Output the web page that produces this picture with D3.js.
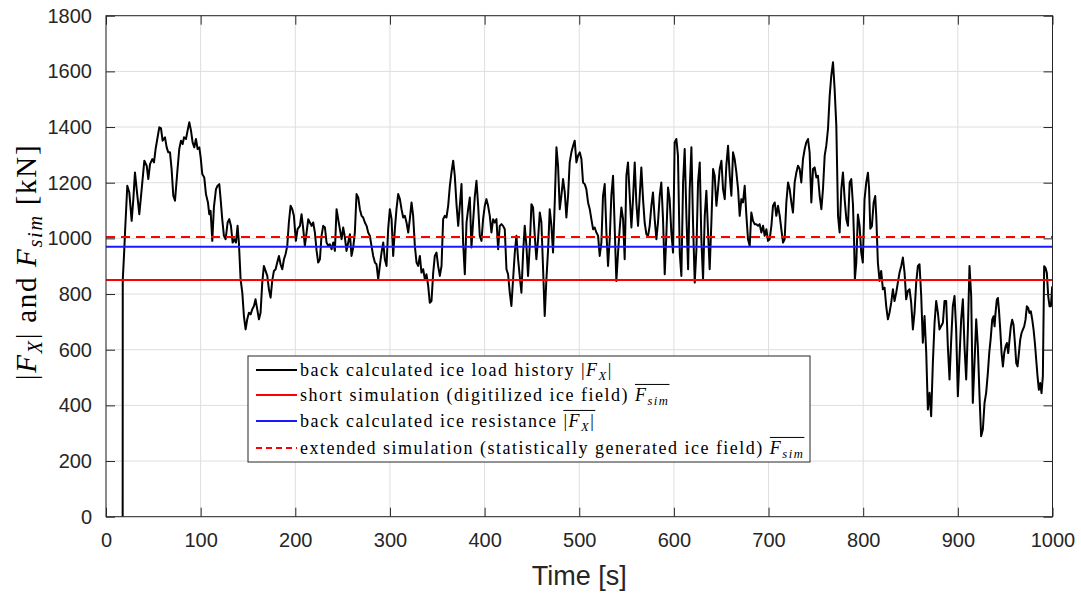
<!DOCTYPE html>
<html><head><meta charset="utf-8">
<script src="https://cdn.jsdelivr.net/npm/d3@7"></script>
<style>body{margin:0;background:#fff} svg{display:block} text{white-space:pre}</style>
</head><body>
<svg id="chart" width="1081" height="595"></svg>
<script>
// ---------- DATA ----------
// back calculated ice load history |F_X| : [time (s), load (kN)]
const loadHistory = [
[17.6,0],[17.7,850],[19.3,958],[20.1,1021],[22.5,1189],[24.6,1165],[27.1,1063],[28.9,1141],[30.6,1237],[32.4,1177],[35.2,1087],[37.7,1177],[40.5,1279],[43.0,1261],[44.7,1213],[46.5,1267],[48.9,1285],[50.7,1273],[52.4,1321],[54.2,1357],[56.3,1399],[58.1,1395],[59.8,1351],[62.3,1363],[64.1,1327],[65.8,1309],[67.6,1309],[69.3,1249],[71.1,1153],[72.9,1135],[75.3,1237],[77.4,1321],[79.2,1351],[81.0,1339],[82.4,1363],[84.5,1357],[86.2,1387],[88.0,1417],[89.8,1387],[91.5,1345],[93.3,1327],[95.0,1357],[96.8,1321],[98.6,1327],[100.0,1291],[101.7,1231],[103.8,1219],[105.6,1159],[107.7,1129],[109.1,1087],[110.5,1099],[112.3,991],[114.0,1111],[116.2,1177],[117.9,1189],[119.7,1195],[121.1,1141],[122.8,1069],[124.6,1009],[126.4,997],[128.5,1057],[130.2,1069],[132.0,1045],[133.8,985],[135.5,997],[137.3,985],[139.0,1045],[140.4,985],[142.2,853],[144.0,805],[145.7,721],[147.5,673],[149.2,709],[151.0,733],[152.8,727],[154.5,745],[156.3,757],[158.0,781],[159.8,745],[161.6,709],[163.3,733],[165.1,841],[166.8,901],[168.6,883],[170.4,865],[172.1,817],[173.9,787],[175.6,847],[177.4,883],[179.2,889],[180.9,913],[182.7,937],[184.4,907],[186.2,889],[188.0,925],[189.7,943],[191.5,973],[193.2,1057],[195.0,1117],[196.8,1105],[198.5,1081],[200.6,991],[202.4,1033],[204.9,1045],
[206.6,1087],[208.4,1033],[210.1,973],[211.9,1021],[213.7,1069],[215.4,1057],[217.2,1045],[218.9,1057],[220.7,1021],[222.5,955],[224.2,913],[226.0,925],[227.7,1009],[229.5,1045],[231.3,1039],[233.0,985],[234.8,973],[236.5,979],[238.3,961],[240.1,985],[241.8,955],[243.6,1105],[245.3,1069],[247.1,1033],[248.9,997],[250.6,1039],[252.4,1003],[254.1,955],[255.9,985],[257.7,1015],[259.4,937],[261.2,967],[262.9,1021],[264.7,1159],[266.5,1147],[268.2,1105],[270.0,1081],[271.7,1075],[273.5,1057],[275.3,1045],[277.0,1021],[278.8,1009],[280.5,973],[282.3,937],[284.1,913],[285.8,907],[287.6,853],[289.3,901],[291.1,949],[292.9,985],[294.6,925],[296.4,901],[298.1,1033],[299.9,1105],[301.7,1069],[303.4,937],[305.2,1033],[306.9,1105],[308.7,1159],[310.5,1141],[312.2,1105],[314.0,1075],[315.7,1081],[317.5,1057],[319.3,1021],[321.0,1069],[322.8,1129],[324.5,1081],[326.3,973],[328.1,913],[329.8,901],[331.6,937],[333.3,877],[335.1,889],[336.9,853],[338.6,871],[340.4,829],[342.1,769],[343.9,775],[345.7,877],[347.4,937],[349.2,949],[350.9,901],[352.7,865],[354.5,901],[356.2,1069],[358.0,1081],[359.7,1075],[361.5,1117],[363.3,1189],[365.0,1237],[366.8,1279],[368.5,1225],[370.3,1123],[372.1,1045],[373.8,1117],[375.6,1195],[377.3,985],[379.1,871],[380.9,1057],[382.6,1105],[384.4,1147],[386.1,967],[387.9,1063],[389.7,1153],[391.4,1207],[393.2,1117],[394.9,1009],
[396.7,991],[398.4,1069],[400.2,1117],[401.9,1141],[403.7,1117],[405.5,1081],[407.2,1021],[409.0,1069],[410.7,1057],[412.5,1069],[414.3,961],[416.0,1045],[417.8,1051],[419.5,1045],[421.3,1033],[423.1,889],[424.8,871],[426.6,805],[428.3,757],[430.1,853],[431.9,949],[433.6,1009],[435.4,925],[437.1,865],[438.9,805],[440.7,949],[442.4,1045],[444.2,973],[445.9,865],[447.7,973],[449.5,1123],[451.2,1111],[453.0,1009],[454.7,925],[456.5,997],[458.3,1093],[460.0,1057],[461.8,889],[463.5,721],[465.3,853],[467.1,961],[468.8,1105],[470.6,1045],[472.3,949],[474.1,1129],[475.9,1327],[477.6,1261],[479.4,1105],[481.1,1153],[482.9,1213],[484.7,1165],[486.4,1075],[488.2,1153],[489.9,1273],[491.7,1309],[493.5,1333],[495.2,1351],[497.0,1273],[498.7,1297],[500.5,1309],[502.3,1285],[504.0,1201],[505.8,1195],[507.5,1177],[509.3,1129],[511.1,1105],[512.8,1069],[514.6,1033],[516.3,1039],[518.1,1021],[519.9,1009],[521.6,937],[523.4,985],[525.1,1153],[526.9,1195],[528.7,1021],[530.4,901],[532.2,997],[533.9,1153],[535.7,1225],[537.5,1033],[539.2,847],[541.0,949],[542.7,1033],[544.5,1111],[546.3,1069],[548.0,925],[549.8,1225],[551.5,1273],[553.3,1153],[555.1,1039],[556.8,1141],[558.6,1273],[560.3,1129],[562.1,1045],[563.9,1153],[565.6,1255],[567.4,1141],[569.1,1057],[570.9,1015],[572.7,1009],[574.4,1045],[576.2,1117],[577.9,1165],[579.7,1069],[581.5,997],[583.2,1057],[585.0,1153],[586.7,1201],[588.5,1069],[590.3,871],[592.0,1009],[593.8,1183],[595.5,1141],[597.3,1021],[599.1,949],[600.8,1345],[602.6,1357],[604.3,1297],
[606.2,945],[607.9,865],[609.7,1201],[611.4,1321],[613.2,1081],[615.0,889],[616.7,1177],[618.5,1327],[620.2,1057],[622.0,841],[623.8,961],[625.5,1201],[627.3,1273],[629.0,997],[630.8,853],[632.6,1081],[634.3,1171],[636.1,1021],[637.8,889],[639.6,1057],[641.4,1249],[643.1,1225],[644.9,1117],[646.6,1177],[648.4,1249],[650.2,1279],[651.9,1177],[653.7,1141],[655.4,1261],[657.2,1333],[659.0,1225],[660.7,1153],[662.5,1309],[664.2,1285],[666.0,1237],[667.8,1177],[669.5,1081],[671.3,1141],[673.0,1129],[674.8,1189],[676.6,1081],[678.3,997],[680.1,973],[681.8,1093],[683.6,1063],[685.4,1051],[687.1,1051],[688.9,1045],[690.6,1051],[692.4,1021],[694.2,1045],[695.9,1009],[697.7,1033],[699.4,991],[701.2,997],[703.0,1045],[704.7,1117],[706.5,1129],[708.2,1081],[710.0,1117],[711.8,1081],[713.5,1033],[715.3,985],[717.0,997],[718.8,1129],[720.6,1201],[722.3,1177],[724.1,1129],[725.8,1093],[727.6,1201],[729.4,1237],[731.1,1261],[732.9,1249],[734.6,1201],[736.4,1285],[738.2,1321],[739.9,1345],[741.7,1357],[743.4,1309],[745.2,1129],[747.0,1249],[748.7,1255],[750.5,1219],[752.2,1225],[754.0,1153],[755.8,1105],[757.5,1177],[759.3,1297],[761.0,1333],[762.8,1393],[764.6,1513],[766.3,1585],[768.1,1633],[769.8,1537],[771.6,1405],[773.4,1081],[775.1,1021],[776.9,1177],[778.6,1237],[780.4,1141],[782.2,1069],[783.9,1045],[785.7,1201],[787.4,1213],[789.2,1120],[790.3,1000],[791.2,853],[792.7,913],[794.4,1086],[796.2,1044],[797.9,950],[799.6,913],[801.4,1140],[803.2,1200],[805.0,1236],[806.2,1180],[807.5,1035],[809.2,1044],[811.0,1128],[812.7,1152],[813.8,1080],[815.5,913],
[817.3,847],[819.0,883],[820.8,817],[822.6,823],[824.3,757],[826.1,709],[827.8,733],[829.6,769],[831.4,817],[833.1,775],[834.9,805],[836.6,841],[838.4,877],[840.2,901],[841.9,931],[843.7,877],[845.4,781],[847.2,811],[849.0,817],[850.7,769],[852.5,673],[854.2,733],[856.0,841],[857.8,901],[859.5,907],[861.3,793],[863.0,625],[864.8,721],[866.6,589],[868.3,385],[870.1,445],[871.8,361],[873.6,553],[875.4,697],[877.1,775],[878.9,733],[880.6,673],[882.4,685],[884.2,697],[885.9,775],[887.7,775],[889.4,613],[891.2,493],[893.0,637],[894.7,757],[896.5,793],[898.2,673],[900.0,433],[901.8,577],[903.5,709],[905.3,781],[907.0,613],[908.8,493],[910.6,673],[912.3,901],[914.1,793],[915.8,409],[917.6,553],[919.4,709],[921.1,613],[922.9,433],[924.6,289],[926.4,313],[928.2,409],[929.9,445],[931.7,517],[933.2,590],
[934.6,636],[936.3,708],[937.7,720],[938.8,684],[939.8,732],[941.2,780],[942.3,786],[943.4,744],[944.8,672],[946.2,588],[947.6,540],[949.0,588],[950.4,612],[951.8,624],[953.2,588],[954.6,636],[956.0,684],[957.4,708],[958.8,690],[960.3,624],[961.7,552],[963.1,540],[964.5,588],[965.9,636],[967.3,660],[968.7,672],[970.1,684],[971.5,708],[972.9,756],[974.3,750],[975.7,732],[977.1,738],[978.6,708],[980.0,672],[981.4,624],[982.8,564],[984.2,504],[985.6,456],[987.0,480],[988.4,444],[989.8,504],[991.2,900],[992.6,894],[994.0,876],[995.5,792],[996.9,756],[998.3,756],[999.7,828]
];
const shortSimMean = 850;      // short simulation (digitilized ice field)
const resistanceMean = 970;    // back calculated ice resistance
const extendedSimMean = 1005;  // extended simulation (statistically generated ice field)
const xTicks = [0,100,200,300,400,500,600,700,800,900,1000];
const yTicks = [0,200,400,600,800,1000,1200,1400,1600,1800];
const xDomain = [0,1000];
const yDomain = [0,1800];
const xLabel = "Time [s]";

// ---------- LAYOUT ----------
const SERIF = "'Liberation Serif', 'DejaVu Serif', serif";
const SANS = "'Liberation Sans', Arial, sans-serif";
const AX = "#262626";
const plot = {left:106, right:1052.5, top:15.7, bottom:516.7};
const x = d3.scaleLinear().domain(xDomain).range([plot.left, plot.right]);
const y = d3.scaleLinear().domain(yDomain).range([plot.bottom, plot.top]);
const svg = d3.select('#chart');

svg.append('rect').attr('width',1081).attr('height',595).attr('fill','#fff');

// grid
const grid = svg.append('g').attr('stroke','#dedede').attr('stroke-width',1);
grid.selectAll('.gx').data(xTicks).join('line')
  .attr('x1',d=>x(d)).attr('x2',d=>x(d)).attr('y1',plot.top).attr('y2',plot.bottom);
grid.selectAll('.gy').data(yTicks).join('line')
  .attr('y1',d=>y(d)).attr('y2',d=>y(d)).attr('x1',plot.left).attr('x2',plot.right);

// clip
svg.append('clipPath').attr('id','clip').append('rect')
  .attr('x',plot.left).attr('y',plot.top).attr('width',plot.right-plot.left).attr('height',plot.bottom-plot.top);

const line = d3.line().x(d=>x(d[0])).y(d=>y(d[1]));
svg.append('path').datum(loadHistory).attr('clip-path','url(#clip)')
  .attr('d',line).attr('fill','none').attr('stroke','#000').attr('stroke-width',2)
  .attr('stroke-linejoin','round');

const hLines = [
  {v:shortSimMean, color:'#ff0000', dash:null},
  {v:resistanceMean, color:'#1a1aff', dash:null},
  {v:extendedSimMean, color:'#ff0000', dash:'9,6'}
];
svg.append('g').selectAll('line').data(hLines).join('line')
  .attr('x1',plot.left).attr('x2',plot.right)
  .attr('y1',d=>y(d.v)).attr('y2',d=>y(d.v))
  .attr('stroke',d=>d.color).attr('stroke-width',2)
  .attr('stroke-dasharray',d=>d.dash);

// axes (MATLAB-style inward ticks, mirrored)
function styleAxis(g){
  g.select('.domain').remove();
  g.selectAll('.tick line').attr('stroke',AX);
  g.selectAll('.tick text').attr('fill',AX).attr('font-family',SANS).attr('font-size',20);
}
svg.append('g').attr('transform',`translate(0,${plot.bottom})`)
  .call(d3.axisBottom(x).tickValues(xTicks).tickSizeInner(-9).tickSizeOuter(0).tickPadding(16).tickFormat(d3.format('d')))
  .call(styleAxis);
svg.append('g').attr('transform',`translate(${plot.left},0)`)
  .call(d3.axisLeft(y).tickValues(yTicks).tickSizeInner(-9).tickSizeOuter(0).tickPadding(14).tickFormat(d3.format('d')))
  .call(styleAxis);
svg.append('g').attr('transform',`translate(0,${plot.top})`)
  .call(d3.axisTop(x).tickValues(xTicks).tickSizeInner(-9).tickSizeOuter(0).tickFormat(''))
  .call(styleAxis);
svg.append('g').attr('transform',`translate(${plot.right},0)`)
  .call(d3.axisRight(y).tickValues(yTicks).tickSizeInner(-9).tickSizeOuter(0).tickFormat(''))
  .call(styleAxis);
svg.append('rect').attr('x',plot.left).attr('y',plot.top)
  .attr('width',plot.right-plot.left).attr('height',plot.bottom-plot.top)
  .attr('fill','none').attr('stroke',AX).attr('stroke-width',1);

// x label
svg.append('text').attr('x',(plot.left+plot.right)/2).attr('y',585)
  .attr('text-anchor','middle').attr('font-family',SANS).attr('font-size',27).attr('fill',AX)
  .text(xLabel);

// rich (LaTeX-like) text helper
function richText(g, parts, fs, xPos, yPos, anchor, spacing){
  const text = g.append('text').attr('x',xPos).attr('y',yPos)
    .attr('font-family',SERIF).attr('font-size',fs).attr('fill','#000')
    .attr('letter-spacing',spacing||0)
    .attr('text-anchor',anchor||'start');
  let shifted = false; const nodes = [];
  parts.forEach(p=>{
    const ts = text.append('tspan').text(p.t);
    if (p.i) ts.attr('font-style','italic');
    if (p.sub){ ts.attr('font-size',fs*0.7); if(!shifted){ ts.attr('dy',fs*0.22); shifted=true; } }
    else if (shifted){ ts.attr('dy',-fs*0.22); shifted=false; }
    nodes.push({node:ts.node(), p});
  });
  return {text, nodes};
}
function overline(g, nodes, baseY, fs){
  const ol = nodes.filter(n=>n.p.ol);
  if (!ol.length) return;
  const first = ol[0].node, last = ol[ol.length-1].node;
  const x0 = first.getStartPositionOfChar(0).x;
  const e = last.getExtentOfChar(last.getNumberOfChars()-1);
  g.append('line').attr('x1',x0).attr('x2',e.x+e.width)
    .attr('y1',baseY-fs*0.92).attr('y2',baseY-fs*0.92)
    .attr('stroke','#000').attr('stroke-width',1);
}

// y label (rotated)
const yl = svg.append('g').attr('transform','translate(36,262) rotate(-90)');
richText(yl, [
  {t:'|'},{t:'F',i:1},{t:'X',i:1,sub:1},{t:'|'},{t:' and '},{t:'F',i:1},{t:'sim',i:1,sub:1},{t:' [kN]'}
], 29, 0, 0, 'middle', 1.7);

// legend
const legendEntries = [
  {color:'#000', dash:null, parts:[{t:'back calculated ice load history '},{t:'|'},{t:'F',i:1},{t:'X',i:1,sub:1},{t:'|'}]},
  {color:'#ff0000', dash:null, parts:[{t:'short simulation (digitilized ice field) '},{t:'F',i:1,ol:1},{t:'sim',i:1,sub:1,ol:1}]},
  {color:'#1a1aff', dash:null, parts:[{t:'back calculated ice resistance '},{t:'|',ol:1},{t:'F',i:1,ol:1},{t:'X',i:1,sub:1,ol:1},{t:'|',ol:1}]},
  {color:'#ff0000', dash:'6,4', parts:[{t:'extended simulation (statistically generated ice field) '},{t:'F',i:1,ol:1},{t:'sim',i:1,sub:1,ol:1}]}
];
const legendBase = [376, 401, 427, 454];
const lg = svg.append('g');
lg.append('rect').attr('x',248).attr('y',356).attr('width',562).attr('height',106)
  .attr('fill','#fff').attr('stroke',AX).attr('stroke-width',1);
legendEntries.forEach((e,i)=>{
  const by = legendBase[i];
  lg.append('line').attr('x1',256).attr('x2',297).attr('y1',by-6).attr('y2',by-6)
    .attr('stroke',e.color).attr('stroke-width',2).attr('stroke-dasharray',e.dash);
  const r = richText(lg, e.parts, 18, 300, by, 'start', 1.5);
  overline(lg, r.nodes, by, 18);
});
</script>
</body></html>
